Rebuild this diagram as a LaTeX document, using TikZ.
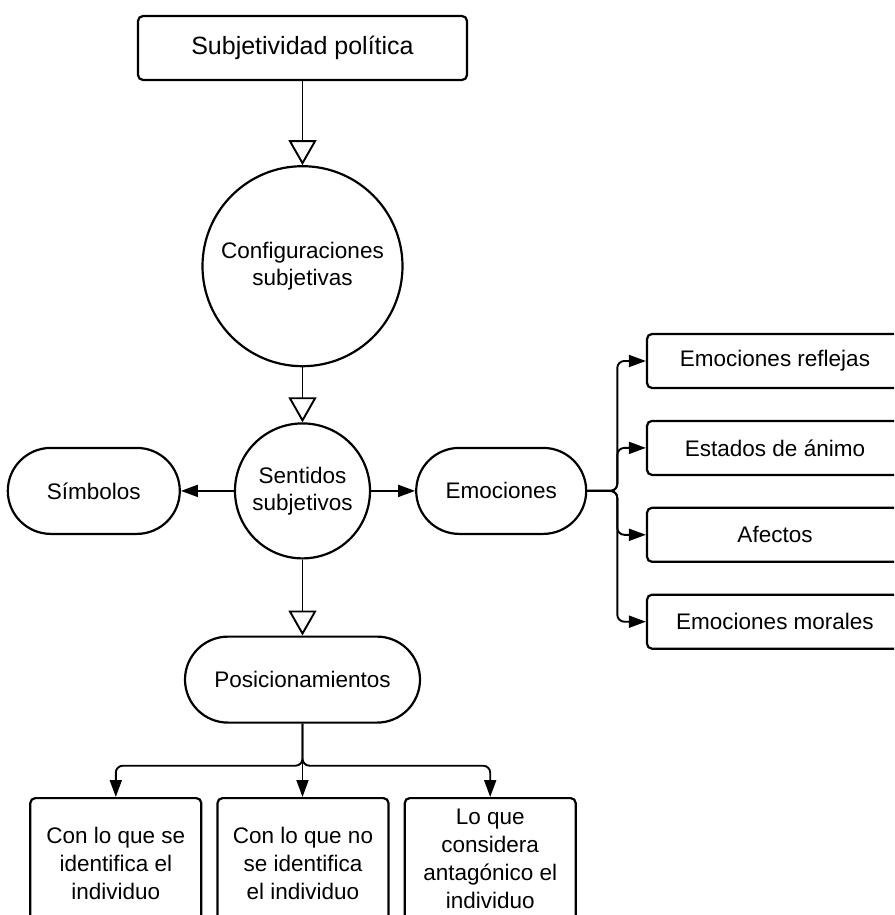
\documentclass[tikz,border=0pt]{standalone}
\usepackage{fontspec}
\setmainfont{Liberation Sans}
\usetikzlibrary{shapes.geometric, arrows.meta, positioning, calc}

\begin{document}
\begin{tikzpicture}[
    x=1pt, y=1pt,
    txt/.style={font=\fontsize{22.5pt}{27pt}\selectfont, align=center, inner sep=0pt},
    box/.style={txt, rectangle, draw=black, line width=2.2pt, rounded corners=5pt},
    pill/.style={box, rounded corners=43pt, minimum height=86pt},
    bubble/.style={txt, circle, draw=black, line width=2.2pt},
    kind/.style={box, minimum width=256pt, minimum height=54pt},
    leaf/.style={box, minimum width=171pt, minimum height=130pt, font=\fontsize{22.5pt}{28pt}\selectfont},
    arrow/.style={-{Triangle[length=17pt, width=12pt]}, line width=1.9pt},
    hollow/.style={-{Triangle[open, length=25pt, width=28pt]}, line width=1.9pt},
    branch/.style={arrow, rounded corners=7pt}
]
    \path[use as bounding box, clip] (0,0) rectangle (894,-915);

    % Main chain
    \node[box, minimum width=329pt, minimum height=64pt, font=\fontsize{25pt}{30pt}\selectfont] (subj) at (302.5,-48) {Subjetividad política};
    \node[bubble, minimum size=200pt, below=84pt of subj] (conf) {Configuraciones\\subjetivas};
    \node[bubble, minimum size=135pt, below=55pt of conf] (sent) {Sentidos\\subjetivos};
    \node[pill, minimum width=172pt, left=53pt of sent] (simb) {Símbolos};
    \node[pill, minimum width=170pt, right=44pt of sent] (emoc) {Emociones};
    \node[pill, minimum width=235pt, below=76pt of sent] (posi) {Posicionamientos};

    % Kinds of emotions
    \node[kind] (refl) at (775,-361) {Emociones reflejas};
    \node[kind, below=30.7pt of refl] (animo) {Estados de ánimo};
    \node[kind, below=30.7pt of animo] (afec) {Afectos};
    \node[kind, below=30.7pt of afec] (moral) {Emociones morales};

    % Positionings (boxes run past the lower edge)
    \node[leaf, anchor=north] (noid) at (303,-797) {Con lo que no\\se identifica\\el individuo};
    \node[leaf, left=14pt of noid] (ident) {Con lo que se\\identifica el\\individuo};
    \node[leaf, minimum height=122pt, right=14pt of noid.north east, anchor=north west] (antag) {Lo que\\considera\\antagónico el\\individuo};

    % Links
    \draw[hollow] (subj) -- (conf);
    \draw[hollow] (conf) -- (sent);
    \draw[hollow] (sent) -- (posi);
    \draw[arrow] (sent) -- (simb);
    \draw[arrow] (sent) -- (emoc);

    \draw[branch] (emoc.east) -- ++(30,0) |- (refl.west);
    \draw[branch] (emoc.east) -- ++(30,0) |- (animo.west);
    \draw[branch] (emoc.east) -- ++(30,0) |- (afec.west);
    \draw[branch] (emoc.east) -- ++(30,0) |- (moral.west);

    \draw[branch] (posi.south) -- ++(0,-42) -| (ident.north);
    \draw[arrow] (posi.south) -- (posi.south |- noid.north);
    \draw[branch] (posi.south) -- ++(0,-42) -| (antag.north);
\end{tikzpicture}
\end{document}
